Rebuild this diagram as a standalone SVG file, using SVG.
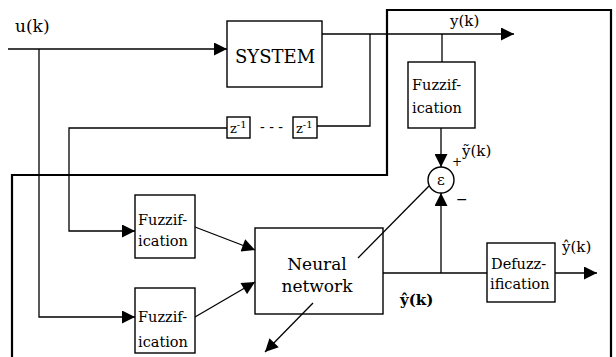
<svg xmlns="http://www.w3.org/2000/svg" width="616" height="357" viewBox="0 0 616 357">
<defs>
<style>
.ln{fill:none;stroke:#000;stroke-width:1.3}
.bx{fill:#fff;stroke:#000;stroke-width:1.4}
.bo{fill:none;stroke:#000;stroke-width:1.4}
.bd{fill:none;stroke:#000;stroke-width:2.2}
text{font-family:"DejaVu Serif","Liberation Serif",serif;fill:#000}
.big{font-size:18px}
.sm{font-size:14.5px}
</style>
<marker id="ah" viewBox="0 0 10 10" refX="10" refY="5" markerWidth="15" markerHeight="13" markerUnits="userSpaceOnUse" orient="auto">
<path d="M0,0 L10,5 L0,10 z" fill="#000"/>
</marker>
</defs>
<rect width="616" height="357" fill="#fff"/>
<g id="border">
<polyline class="bd" points="12,357 12,175 387,175 387,10 611,10 611,357"/>
</g>
<g id="connectors">
<line class="ln" x1="8" y1="49" x2="227" y2="49" marker-end="url(#ah)"/>
<polyline class="ln" points="39,49 39,317 135,317" marker-end="url(#ah)"/>
<line class="ln" x1="322" y1="34" x2="514" y2="34" marker-end="url(#ah)"/>
<polyline class="ln" points="370,34 370,126 317,126"/>
<polyline class="ln" points="227,128 69,128 69,231 135,231" marker-end="url(#ah)"/>
<line class="ln" x1="442" y1="34" x2="442" y2="62"/>
<line class="ln" x1="441" y1="128" x2="441" y2="167" marker-end="url(#ah)"/>
<line class="ln" x1="441" y1="273" x2="441" y2="193" marker-end="url(#ah)"/>
<line class="ln" x1="195" y1="227" x2="255" y2="250" marker-end="url(#ah)"/>
<line class="ln" x1="195" y1="317" x2="255" y2="282" marker-end="url(#ah)"/>
<line class="ln" x1="383" y1="273" x2="487" y2="273"/>
<line class="ln" x1="555" y1="273" x2="597" y2="273" marker-end="url(#ah)"/>
<line class="ln" x1="429" y1="186" x2="358" y2="258"/>
<line class="ln" x1="313" y1="303" x2="265" y2="352" marker-end="url(#ah)"/>
</g>
<g id="system">
<rect class="bx" x="227" y="21" width="95" height="66"/>
<text class="big" x="275" y="63" text-anchor="middle">SYSTEM</text>
</g>
<g id="z1">
<rect class="bx" x="227" y="117" width="23" height="21"/>
<text font-size="13" x="230" y="133">z<tspan font-size="10" dy="-5">-1</tspan></text>
</g>
<text font-size="14" x="260" y="132">- - -</text>
<g id="z2">
<rect class="bx" x="293" y="117" width="24" height="21"/>
<text font-size="13" x="296" y="133">z<tspan font-size="10" dy="-5">-1</tspan></text>
</g>
<g id="fuzz-y">
<rect class="bx" x="408" y="62" width="67" height="66"/>
<text class="sm" x="412" y="90">Fuzzif-</text>
<text class="sm" x="412" y="113">ication</text>
</g>
<g id="sum">
<circle class="bx" cx="441" cy="180" r="13"/>
<text font-size="15" x="441" y="185" text-anchor="middle">ε</text>
<text font-size="12" x="452" y="166">+</text>
<text font-size="14" x="456" y="204">−</text>
<text font-size="15" x="462" y="156">ỹ(k)</text>
</g>
<g id="fuzz-1">
<rect class="bx" x="135" y="195" width="60" height="63"/>
<text class="sm" x="138" y="225">Fuzzif-</text>
<text class="sm" x="138" y="246">ication</text>
</g>
<g id="fuzz-2">
<rect class="bx" x="135" y="288" width="60" height="65"/>
<text class="sm" x="138" y="322">Fuzzif-</text>
<text class="sm" x="138" y="347">ication</text>
</g>
<g id="nn">
<rect class="bo" x="255" y="228" width="128" height="86"/>
<text font-size="17" x="317" y="270" text-anchor="middle">Neural</text>
<text font-size="17" x="317" y="292" text-anchor="middle">network</text>
</g>
<text font-size="15" font-weight="bold" x="400" y="305">ŷ(k)</text>
<g id="defuzz">
<rect class="bx" x="487" y="243" width="68" height="59"/>
<text class="sm" x="491" y="269">Defuzz-</text>
<text class="sm" x="490" y="289">ification</text>
</g>
<text font-size="15" x="562" y="252">ŷ(k)</text>
<text font-size="17" x="15" y="32">u(k)</text>
<text font-size="15" x="450" y="26">y(k)</text>
</svg>
